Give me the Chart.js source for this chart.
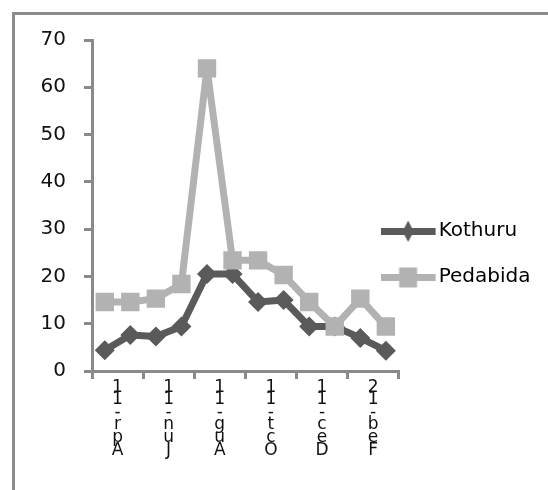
<!DOCTYPE html>
<html>
<head>
<meta charset="utf-8">
<script src="https://cdn.jsdelivr.net/npm/chart.js@4.4.1/dist/chart.umd.min.js"></script>
<style>
  html, body { margin: 0; padding: 0; background: #fff; overflow: hidden; }
  #frame {
    position: absolute; left: 12px; top: 12px; width: 700px; height: 700px;
    border-left: 3px solid #8c8c8c; border-top: 3px solid #8c8c8c;
  }
  #chart { position: absolute; left: 0; top: 0; }
</style>
</head>
<body>
<div id="frame"></div>
<canvas id="chart" width="548" height="490"></canvas>
<script>
const categories = ["Apr-11", "May-11", "Jun-11", "Jul-11", "Aug-11", "Sep-11",
  "Oct-11", "Nov-11", "Dec-11", "Jan-12", "Feb-12", "Mar-12"];
const kothuru = [4.4, 7.6, 7.3, 9.4, 20.5, 20.5, 14.6, 15, 9.4, 9.4, 7, 4.3];
const pedabida = [14.6, 14.6, 15.3, 18.4, 64, 23.4, 23.4, 20.3, 14.6, 9.4, 15.3, 9.4];
const yTicks = [0, 10, 20, 30, 40, 50, 60, 70];

const dark = "#5a5a5a";
const light = "#b2b2b2";
const axisGray = "#8a8a8a";
const font = "'DejaVu Sans', sans-serif";

// legend key: line with the marker in the middle (74px canvas, drawn
// centred 11px right of the item start, so the line runs into the plot)
function makeKey(color, style) {
  const c = document.createElement("canvas");
  c.width = 74;
  c.height = 24;
  const g = c.getContext("2d");
  g.fillStyle = color;
  g.fillRect(0, 9, 55, 7);
  g.beginPath();
  if (style === "diamond") {
    g.moveTo(27.5, 1.5);
    g.lineTo(33, 12.5);
    g.lineTo(27.5, 23);
    g.lineTo(22, 12.5);
  } else {
    g.rect(18.5, 2.5, 18, 20);
  }
  g.closePath();
  g.fill();
  return c;
}
const keys = [makeKey(dark, "diamond"), makeKey(light, "square")];

// excel lets the legend overlap the plot; widen the legend box to the left
// after layout so its clip does not cut the keys
const legendShift = {
  id: "legendShift",
  afterLayout(chart) {
    chart.legend.left -= 18;
    chart.legend.width += 18;
  },
};

new Chart(document.getElementById("chart"), {
  type: "line",
  data: {
    labels: categories,
    datasets: [
      {
        label: "Kothuru",
        data: kothuru,
        borderColor: dark,
        backgroundColor: dark,
        borderWidth: 7,
        borderJoinStyle: "round",
        pointStyle: "rectRot",
        pointRadius: 10,
        pointBorderWidth: 0,
        pointHoverRadius: 10,
        order: 1,
      },
      {
        label: "Pedabida",
        data: pedabida,
        borderColor: light,
        backgroundColor: light,
        borderWidth: 7,
        borderJoinStyle: "round",
        pointStyle: "rect",
        pointRadius: 13,
        pointBorderWidth: 0,
        pointHoverRadius: 13,
        order: 0,
      },
    ],
  },
  options: {
    responsive: false,
    animation: false,
    devicePixelRatio: 1,
    layout: { padding: { left: 0, top: 40, right: 16.5, bottom: 22 } },
    plugins: {
      tooltip: { enabled: false },
      legend: {
        position: "right",
        labels: {
          usePointStyle: true,
          pointStyleWidth: 22,
          padding: 26,
          color: "#111",
          font: { family: font, size: 20 },
          generateLabels: (chart) =>
            chart.data.datasets.map((ds, i) => ({
              text: ds.label,
              pointStyle: keys[i],
              fillStyle: ds.borderColor,
              strokeStyle: ds.borderColor,
              lineWidth: 0,
              hidden: false,
              datasetIndex: i,
            })),
        },
      },
    },
    scales: {
      x: {
        offset: true,
        afterFit: (s) => { s.height = 97; },
        grid: {
          offset: true,
          drawOnChartArea: false,
          tickLength: 8,
          lineWidth: 3,
          color: (ctx) => (ctx.index === undefined || ctx.index % 2 === 0 ? axisGray : "rgba(0,0,0,0)"),
        },
        border: { color: axisGray, width: 3 },
        ticks: {
          autoSkip: false,
          maxRotation: 0,
          minRotation: 0,
          padding: 2,
          labelOffset: 12.75,
          color: "#111",
          font: { family: font, size: 17, lineHeight: 0.74 },
          callback: (v, i) => (i % 2 === 0 ? categories[i].split("").reverse() : ""),
        },
      },
      y: {
        min: yTicks[0],
        max: yTicks[yTicks.length - 1],
        afterFit: (s) => { s.width = 92; },
        afterBuildTicks: (s) => { s.ticks = yTicks.map((v) => ({ value: v })); },
        grid: { drawOnChartArea: false, tickLength: 8, lineWidth: 3, color: axisGray },
        border: { color: axisGray, width: 3 },
        ticks: {
          padding: 18,
          color: "#111",
          font: { family: font, size: 20 },
        },
      },
    },
  },
  plugins: [legendShift],
});
</script>
</body>
</html>
